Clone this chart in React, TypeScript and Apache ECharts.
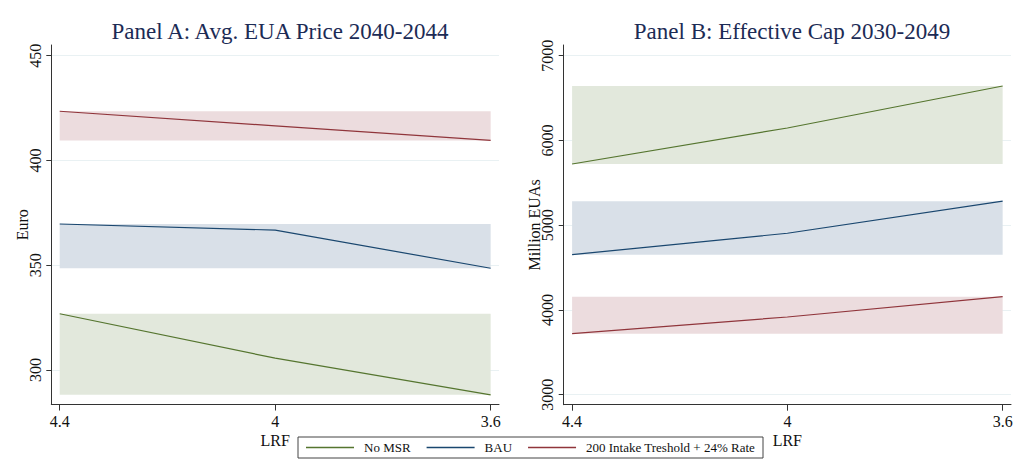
import React, { useEffect, useRef } from "react";
import * as echarts from "echarts";

const lrf = [4.4, 4, 3.6];
const lrfTicks = [4.4, 4, 3.6];

const seriesNames = ["No MSR", "BAU", "200 Intake Treshold + 24% Rate"];
const lineColors = ["#55752f", "#1a476f", "#90353b"];
const bandColors = ["#e2e8dc", "#d9e0e8", "#ecdcde"];

const priceNoMSR = [326.9, 305.7, 288.2];
const priceBAU = [369.7, 366.8, 348.6];
const priceIntake = [423.5, 416.5, 409.6];
const priceTicks = [300, 350, 400, 450];

const capNoMSR = [5722, 6147, 6642];
const capBAU = [4652, 4905, 5283];
const capIntake = [3720, 3917, 4157];
const capTicks = [3000, 4000, 5000, 6000, 7000];

const FONT = "'Liberation Serif', 'Times New Roman', serif";

function panelSeries(gi: number, values: number[][], ticks: number[]) {
  const out: any[] = [];
  out.push({
    type: "line",
    xAxisIndex: gi,
    yAxisIndex: gi,
    data: [],
    silent: true,
    z: 1,
    markLine: {
      silent: true,
      z: 0,
      symbol: ["none", "none"],
      label: { show: false },
      lineStyle: { color: "#e9f1f3", width: 1, type: "solid" },
      data: ticks.map((t) => ({ yAxis: t })),
    },
  });
  values.forEach((vals, i) => {
    const lo = Math.min(...vals);
    const hi = Math.max(...vals);
    out.push({
      name: seriesNames[i],
      type: "line",
      xAxisIndex: gi,
      yAxisIndex: gi,
      data: lrf.map((x, k) => [x, vals[k]]),
      symbol: "none",
      z: 3,
      lineStyle: { color: lineColors[i], width: 1.2 },
      itemStyle: { color: lineColors[i] },
      markArea: {
        silent: true,
        z: 1,
        itemStyle: { color: bandColors[i] },
        data: [[{ coord: [lrf[0], hi] }, { coord: [lrf[lrf.length - 1], lo] }]],
      },
    });
  });
  return out;
}

function xAxisFor(gi: number) {
  return {
    type: "value",
    gridIndex: gi,
    min: 3.5845,
    max: 4.4156,
    inverse: true,
    name: "LRF",
    nameLocation: "middle",
    nameGap: 28,
    nameMoveOverlap: false,
    nameTextStyle: { fontFamily: FONT, fontSize: 16, color: "#111" },
    axisLine: { show: true, onZero: false, lineStyle: { color: "#333", width: 1 } },
    axisTick: { show: true, customValues: lrfTicks, length: 6, lineStyle: { color: "#333" } },
    axisLabel: {
      customValues: lrfTicks,
      formatter: (v: number) => String(v),
      fontFamily: FONT,
      fontSize: 16,
      color: "#111",
      margin: 9,
    },
    splitLine: { show: false },
  };
}

function yAxisFor(gi: number, min: number, max: number, ticks: number[], name: string) {
  return {
    type: "value",
    gridIndex: gi,
    min,
    max,
    name,
    nameLocation: "middle",
    nameGap: 21,
    nameMoveOverlap: false,
    nameTextStyle: { fontFamily: FONT, fontSize: 16, color: "#111" },
    axisLine: { show: true, lineStyle: { color: "#333", width: 1 } },
    axisTick: { show: true, customValues: ticks, length: 5, lineStyle: { color: "#333" } },
    axisLabel: {
      customValues: ticks,
      formatter: (v: number) => String(v),
      rotate: 90,
      fontFamily: FONT,
      fontSize: 16,
      color: "#111",
      margin: 8,
    },
    splitLine: { show: false },
  };
}

export default function App() {
  const ref = useRef<HTMLDivElement>(null);
  useEffect(() => {
    if (!ref.current) return;
    const chart = echarts.init(ref.current, null, { renderer: "svg" });
    const titleStyle = { fontFamily: FONT, fontSize: 23, fontWeight: "normal", color: "#1c2b55" };
    chart.setOption({
      animation: false,
      backgroundColor: "#ffffff",
      title: [
        { text: "Panel A: Avg. EUA Price 2040-2044", left: 275, top: 15, textAlign: "center", textStyle: titleStyle },
        { text: "Panel B: Effective Cap 2030-2049", left: 787, top: 15, textAlign: "center", textStyle: titleStyle },
      ],
      legend: {
        data: seriesNames,
        left: 298,
        top: 437,
        orient: "horizontal",
        icon: "rect",
        itemWidth: 48,
        itemHeight: 1.3,
        itemGap: 16,
        padding: [4, 8, 4, 8],
        borderColor: "#444",
        borderWidth: 1,
        borderRadius: 0,
        backgroundColor: "#fff",
        selectedMode: false,
        textStyle: { fontFamily: FONT, fontSize: 13, color: "#111", padding: [0, 0, 0, 5] },
      },
      grid: [
        { left: 51.3, right: 525, top: 45, bottom: 64.5, containLabel: false },
        { left: 563.7, right: 13, top: 45, bottom: 64.3, containLabel: false },
      ],
      xAxis: [xAxisFor(0), xAxisFor(1)],
      yAxis: [
        yAxisFor(0, 283.6, 455.1, priceTicks, "Euro"),
        yAxisFor(1, 2882, 7126, capTicks, "Million EUAs"),
      ],
      series: [
        ...panelSeries(0, [priceNoMSR, priceBAU, priceIntake], priceTicks),
        ...panelSeries(1, [capNoMSR, capBAU, capIntake], capTicks),
      ],
    });
    return () => chart.dispose();
  }, []);
  return (
    <div
      ref={ref}
      style={{ position: "fixed", left: 0, top: 0, width: 1024, height: 469, background: "#fff" }}
    />
  );
}
